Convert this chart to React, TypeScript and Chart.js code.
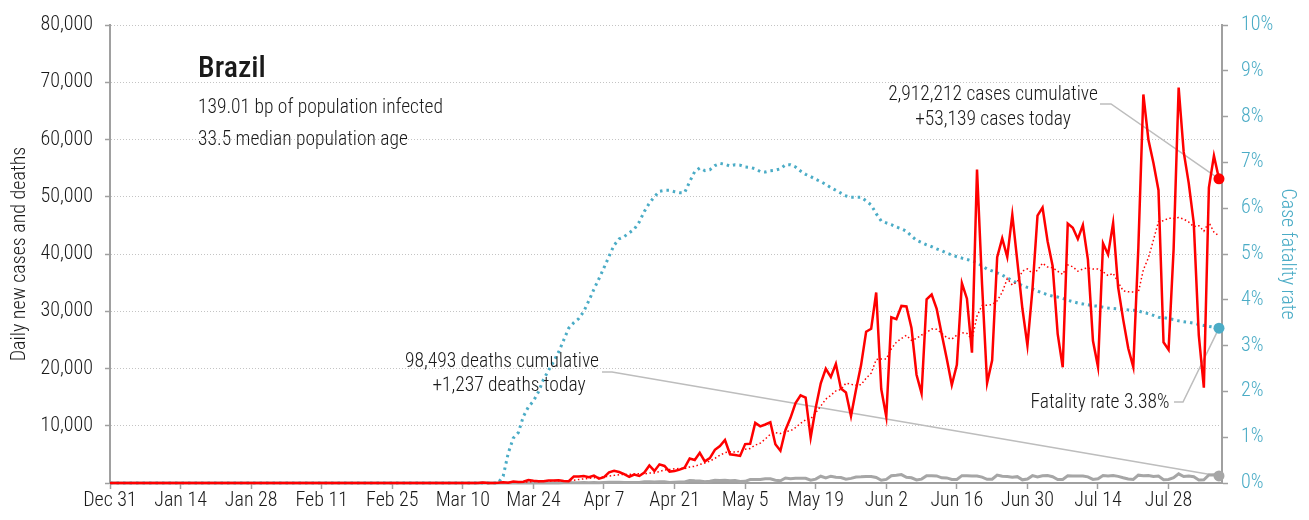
import React, { useEffect, useRef } from 'react';
import { Chart, registerables } from 'chart.js';

Chart.register(...registerables);

const FONT = "'Roboto Condensed', 'Liberation Sans Narrow', 'DejaVu Sans Condensed', Roboto, sans-serif";
const RED = '#ff0000';
const CYAN = '#4bacc6';
const GRAY = '#a6a6a6';
const AXIS = '#a0a0a0';
const TEXT = '#1a1a1a';

// Days counted from Dec 31, 2019 (day 0)
const chartStartDay = 0;
const chartEndDay = 220.6;
const firstDataDay = 61; // Mar 1

const xTickDays = [0, 14, 28, 42, 56, 70, 84, 98, 112, 126, 140, 154, 168, 182, 196, 210];
const xTickLabels = ['Dec 31', 'Jan 14', 'Jan 28', 'Feb 11', 'Feb 25', 'Mar 10', 'Mar 24', 'Apr 7', 'Apr 21', 'May 5', 'May 19', 'Jun 2', 'Jun 16', 'Jun 30', 'Jul 14', 'Jul 28'];
const leftTickLabels = ['', '10,000', '20,000', '30,000', '40,000', '50,000', '60,000', '70,000', '80,000'];
const rightTickLabels = ['0%', '1%', '2%', '3%', '4%', '5%', '6%', '7%', '8%', '9%', '10%'];

// Daily new cases, Mar 1 .. Aug 7
const dailyCases = [
  1, 0, 0, 0, 2, 0, 9, 0, 7, 5, 6, 7, 14, 99, 0, 11, 38, 121, 51, 249, 172, 228, 525, 378, 323, 307, 431, 432, 487, 352, 323,
  1138, 1119, 1208, 1012, 1304, 770, 1031, 1873, 2136, 1922, 1546, 1089, 1465, 1238, 1832, 3058, 2105, 3257, 2976, 1996, 2089, 2336, 2678, 4279, 4007, 5281, 3776, 4346, 5789, 6450,
  7502, 5015, 4898, 4726, 6794, 6835, 10503, 9888, 10222, 10611, 6760, 5632, 9258, 11385, 13944, 15305, 14919, 7938, 13140, 17408, 19951, 18508, 20803, 16508, 15813, 11687, 16324, 20599, 26417, 26928, 33274,
  16409, 11598, 28936, 28633, 30925, 30830, 27075, 18912, 15654, 32091, 32913, 30412, 25982, 21704, 17110, 20647, 34918, 32188, 22765, 54771, 34666, 17459, 21432, 39436, 42725, 39483, 46860, 38693, 30476, 24052,
  33846, 46712, 48105, 42223, 37923, 26051, 20229, 45305, 44571, 42619, 45048, 39023, 24831, 20286, 41857, 39924, 45403, 34177, 28532, 23529, 20257, 41008, 67860, 59961, 55891, 51147, 24578, 23284, 40816, 69074, 57837,
  52383, 45392, 25800, 16641, 51603, 57152, 53139,
];

// 7-day average of new cases, Mar 1 .. Aug 7
const avgCases = [
  0, 0, 0, 0, 0, 0, 2, 2, 3, 3, 4, 5, 7, 20, 20, 20, 25, 41, 48, 81, 92, 124, 198, 246, 275, 312, 338, 375, 412, 387, 379,
  496, 612, 723, 806, 922, 982, 1083, 1188, 1333, 1435, 1512, 1481, 1580, 1610, 1604, 1736, 1762, 2006, 2276, 2352, 2473, 2545, 2491, 2802, 2909, 3238, 3492, 3815, 4308, 4847,
  5307, 5451, 5397, 5532, 5882, 6031, 6610, 6951, 7695, 8511, 8802, 8636, 8982, 9108, 9687, 10414, 11029, 11197, 12270, 13434, 14658, 15310, 16095, 16322, 17447, 17240, 17085, 17177, 18307, 19182, 21577,
  21663, 21650, 23452, 24599, 25243, 25801, 24915, 25273, 25852, 26303, 26914, 26841, 26148, 25381, 25124, 25837, 26241, 26137, 25045, 29158, 31009, 31059, 31171, 31817, 33322, 35710, 34580, 35155, 37015, 37389,
  36591, 37160, 38392, 37730, 37620, 36987, 36441, 38078, 37772, 36989, 37392, 37549, 37375, 37383, 36891, 36227, 36625, 35072, 33573, 33387, 33383, 33261, 37252, 39332, 42434, 45665, 45815, 46247, 46220, 46393, 46090,
  45588, 44766, 44941, 43992, 45533, 43830, 43159,
];

// Daily new deaths, Mar 1 .. Aug 7
const dailyDeaths = [
  0, 0, 0, 0, 0, 0, 0, 0, 0, 0, 0, 0, 0, 0, 0, 0, 0, 1, 2, 3, 5, 4, 10, 9, 12, 13, 18, 15, 19, 25, 23,
  42, 39, 84, 35, 86, 41, 78, 122, 133, 131, 107, 67, 99, 105, 204, 204, 188, 217, 213, 108, 125, 154, 165, 425, 373, 353, 229, 317, 480, 430,
  493, 406, 421, 275, 296, 600, 615, 610, 751, 730, 496, 396, 881, 749, 844, 824, 816, 485, 674, 1179, 888, 1188, 1001, 965, 653, 807, 1039, 1086, 1156, 1124, 956,
  480, 623, 1262, 1349, 1473, 1005, 904, 525, 679, 1272, 1274, 1239, 909, 892, 612, 627, 1282, 1269, 1238, 1206, 1022, 641, 654, 1374, 1185, 1141, 990, 1109, 552, 692,
  1280, 1038, 1252, 1290, 1091, 602, 620, 1254, 1223, 1220, 1214, 1071, 631, 733, 1300, 1233, 1322, 1163, 921, 716, 632, 1367, 1284, 1311, 1156, 1211, 555, 627, 921, 1595, 1129,
  1212, 1088, 541, 561, 1394, 1437, 1237,
];

// Case fatality rate (%), Mar 1 .. Aug 7
const fatalityRatePct = [
  0, 0, 0, 0, 0, 0, 0, 0, 0, 0, 0, 0, 0, 0, 0, 0, 0, 0.15, 0.65, 0.98, 1.10, 1.45, 1.66, 1.79, 1.99, 2.26, 2.46, 2.65, 2.86, 3.12, 3.38,
  3.50, 3.59, 3.75, 3.98, 4.23, 4.46, 4.70, 4.95, 5.19, 5.33, 5.38, 5.46, 5.54, 5.70, 5.93, 6.11, 6.25, 6.37, 6.39, 6.39, 6.36, 6.34, 6.34, 6.58, 6.80, 6.88, 6.82, 6.84, 6.93, 6.98,
  6.96, 6.92, 6.95, 6.94, 6.90, 6.89, 6.86, 6.80, 6.79, 6.82, 6.83, 6.86, 6.95, 6.95, 6.90, 6.81, 6.74, 6.69, 6.63, 6.58, 6.52, 6.45, 6.39, 6.33, 6.27, 6.24, 6.24, 6.24, 6.16, 6.07, 5.88,
  5.72, 5.68, 5.64, 5.59, 5.55, 5.50, 5.39, 5.30, 5.25, 5.20, 5.16, 5.11, 5.07, 5.02, 4.98, 4.94, 4.91, 4.88, 4.85, 4.81, 4.74, 4.67, 4.63, 4.59, 4.54, 4.48, 4.42, 4.36, 4.31, 4.27,
  4.24, 4.19, 4.15, 4.11, 4.08, 4.06, 4.03, 3.99, 3.96, 3.93, 3.91, 3.89, 3.87, 3.86, 3.84, 3.82, 3.81, 3.80, 3.79, 3.78, 3.77, 3.76, 3.72, 3.70, 3.66, 3.62, 3.61, 3.59, 3.57, 3.54, 3.52,
  3.51, 3.49, 3.46, 3.44, 3.42, 3.40, 3.38,
];

const toPoints = (values: number[]) => [
  { x: chartStartDay, y: 0 },
  ...values.map((v, i) => ({ x: firstDataDay + i, y: v })),
];

const lastOnly = (r: number, n: number) => (ctx: any) => (ctx.dataIndex === n ? r : 0);

const annotationPlugin = {
  id: 'annotations',
  beforeDatasetsDraw(chart: any) {
    const { ctx, scales } = chart;
    const lastIdx = dailyCases.length - 1;
    const px = scales.x.getPixelForValue(firstDataDay + lastIdx);
    const leaders: [number, number, number, number][] = [
      [1100, 104, 1111, scales.y.getPixelForValue(dailyCases[lastIdx])],
      [602, 372, 612, scales.y.getPixelForValue(dailyDeaths[lastIdx])],
      [1174, 402, 1183, scales.y1.getPixelForValue(fatalityRatePct[lastIdx])],
    ];
    ctx.save();
    ctx.strokeStyle = '#bdbdbd';
    ctx.lineWidth = 1.5;
    leaders.forEach(([x0, y0, x1, yEnd]) => {
      ctx.beginPath();
      ctx.moveTo(x0, y0);
      ctx.lineTo(x1, y0);
      ctx.lineTo(px, yEnd);
      ctx.stroke();
    });
    ctx.restore();
  },
  afterDatasetsDraw(chart: any) {
    const { ctx } = chart;
    ctx.save();
    ctx.fillStyle = TEXT;
    ctx.textBaseline = 'alphabetic';
    ctx.textAlign = 'left';
    ctx.font = `500 30px ${FONT}`;
    ctx.fillText('Brazil', 198, 77);
    ctx.font = `300 19.5px ${FONT}`;
    ctx.fillText('139.01 bp of population infected', 198, 113);
    ctx.fillText('33.5 median population age', 198, 145);
    ctx.textAlign = 'center';
    ctx.fillText('2,912,212 cases cumulative', 993, 100);
    ctx.fillText('+53,139 cases today', 993, 125);
    ctx.fillText('98,493 deaths cumulative', 502, 367);
    ctx.fillText('+1,237 deaths today', 509, 391);
    ctx.fillText('Fatality rate 3.38%', 1100, 408);
    ctx.restore();
  },
};

export default function App() {
  const canvasRef = useRef<HTMLCanvasElement | null>(null);

  useEffect(() => {
    const canvas = canvasRef.current;
    if (!canvas) return;
    const nCases = dailyCases.length;
    const tickFont = { family: FONT, size: 20, weight: '300' as any };
    const chart = new Chart(canvas, {
      type: 'line',
      data: {
        datasets: [
          {
            label: 'Daily new cases',
            data: toPoints(dailyCases),
            yAxisID: 'y',
            borderColor: RED,
            backgroundColor: RED,
            borderWidth: 2.5,
            pointRadius: lastOnly(5.5, nCases),
            pointBorderWidth: 0,
            pointBackgroundColor: RED,
            tension: 0,
            clip: false,
          },
          {
            label: '7-day average',
            data: toPoints(avgCases),
            yAxisID: 'y',
            borderColor: RED,
            borderWidth: 1.5,
            borderDash: [1.5, 2.5],
            pointRadius: 0,
            tension: 0,
          },
          {
            label: 'Daily new deaths',
            data: toPoints(dailyDeaths),
            yAxisID: 'y',
            borderColor: GRAY,
            backgroundColor: GRAY,
            borderWidth: 3,
            pointRadius: lastOnly(5.5, nCases),
            pointBorderWidth: 0,
            pointBackgroundColor: GRAY,
            tension: 0,
            clip: false,
          },
          {
            label: 'Case fatality rate',
            data: toPoints(fatalityRatePct),
            yAxisID: 'y1',
            borderColor: CYAN,
            backgroundColor: CYAN,
            borderWidth: 3,
            borderDash: [2.5, 4],
            pointRadius: lastOnly(5.5, nCases),
            pointBorderWidth: 0,
            pointBackgroundColor: CYAN,
            tension: 0,
            clip: false,
          },
        ],
      },
      options: {
        animation: false,
        responsive: false,
        events: [],
        layout: { padding: { top: 20, left: 0, right: 0, bottom: 0 } },
        plugins: { legend: { display: false }, tooltip: { enabled: false } },
        scales: {
          x: {
            type: 'linear',
            min: chartStartDay,
            max: chartEndDay,
            afterBuildTicks: (s: any) => {
              s.ticks = xTickDays.map((v) => ({ value: v }));
            },
            afterFit: (s: any) => {
              s.height = 37;
            },
            ticks: {
              autoSkip: false,
              maxRotation: 0,
              padding: 0,
              color: TEXT,
              font: tickFont,
              callback: (_v: any, i: number) => xTickLabels[i],
            },
            grid: { drawOnChartArea: false, tickLength: 6, tickColor: AXIS, tickWidth: 1.5 },
            border: { color: AXIS, width: 2 },
          },
          y: {
            position: 'left',
            min: 0,
            max: 80000,
            afterFit: (s: any) => {
              s.width = 110;
            },
            ticks: {
              stepSize: 10000,
              padding: 12,
              color: TEXT,
              font: tickFont,
              callback: (_v: any, i: number) => leftTickLabels[i],
            },
            grid: {
              color: '#c4c4c4',
              lineWidth: 1,
              tickLength: 5,
              tickColor: AXIS,
              tickWidth: 1.5,
            },
            border: { color: AXIS, width: 2, dash: [1, 2] },
            title: {
              display: true,
              text: 'Daily new cases and deaths',
              color: TEXT,
              font: tickFont,
              padding: { top: 8, bottom: 0 },
            },
          },
          y1: {
            position: 'right',
            min: 0,
            max: 10,
            afterFit: (s: any) => {
              s.width = 87;
            },
            ticks: {
              stepSize: 1,
              padding: 13,
              color: CYAN,
              font: tickFont,
              callback: (_v: any, i: number) => rightTickLabels[i],
            },
            grid: { drawOnChartArea: false, tickLength: 6, tickColor: AXIS, tickWidth: 1.5 },
            border: { color: AXIS, width: 2 },
            title: {
              display: true,
              text: 'Case fatality rate',
              color: CYAN,
              font: tickFont,
              padding: { top: 10, bottom: 0 },
            },
          },
        },
      },
      plugins: [annotationPlugin],
    } as any);
    return () => chart.destroy();
  }, []);

  return (
    <div style={{ position: 'fixed', left: 0, top: 0, width: 1309, height: 520, background: '#fff' }}>
      <canvas ref={canvasRef} width={1309} height={520} style={{ width: 1309, height: 520, display: 'block' }} />
    </div>
  );
}
